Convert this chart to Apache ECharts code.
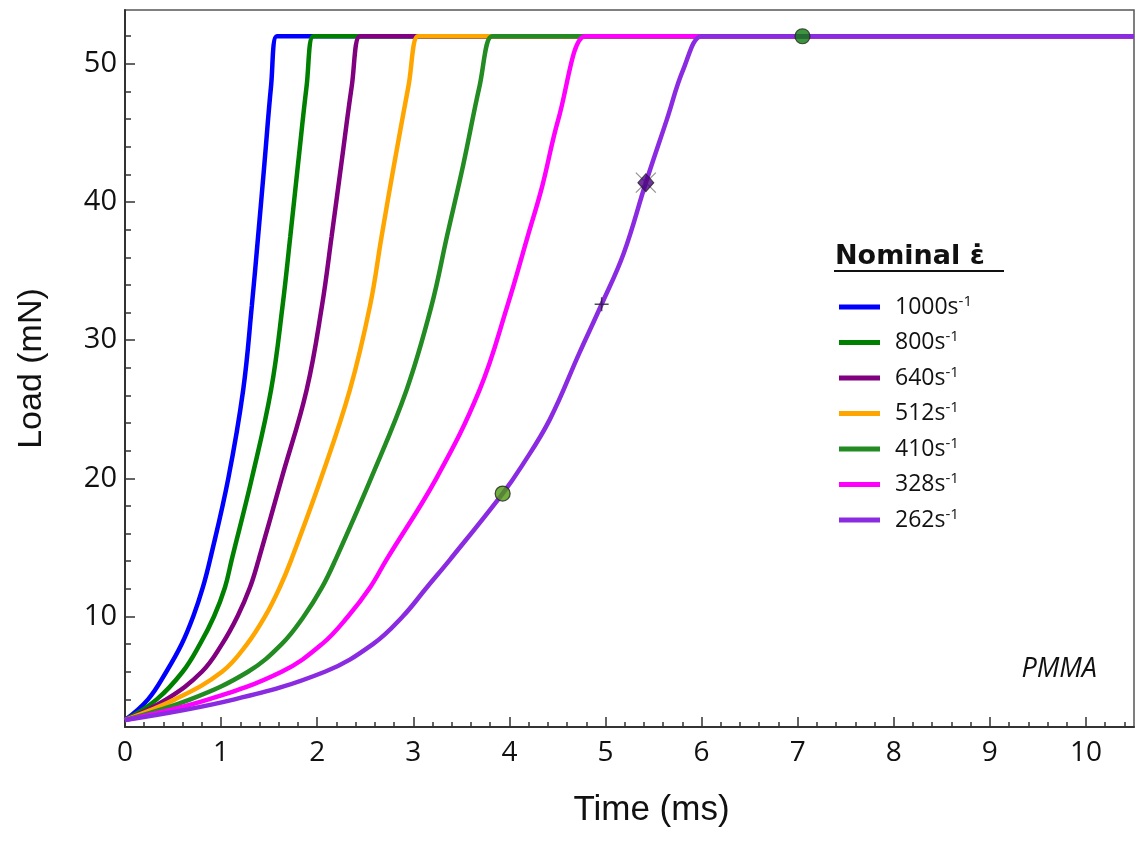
<!DOCTYPE html>
<html>
<head>
<meta charset="utf-8">
<script src="https://cdn.jsdelivr.net/npm/echarts@6/dist/echarts.min.js"></script>
<style>
  html, body { margin: 0; background: #fff; }
  #chart { width: 1141px; height: 844px; }
</style>
</head>
<body>
<div id="chart"></div>
<script>
// strain rates (legend) and line colours
const rates = ['1000', '800', '640', '512', '410', '328', '262'];
const lineColors = ['#0000ff', '#008000', '#800080', '#ffa500', '#228b22', '#ff00ff', '#8a2be2'];

// [time (ms), load (mN)]
const load1000 = [[0, 2.5], [0.24, 4], [0.43, 6], [0.59, 8], [0.71, 10], [0.81, 12.1], [0.885, 14.1], [1.075, 20], [1.23, 26.4], [1.32, 32.5], [1.385, 37.5], [1.45, 42.7], [1.52, 48.4], [1.58, 52], [1.66, 52], [10.5, 52]];
const load800 = [[0, 2.5], [0.33, 4], [0.6, 6], [0.78, 8], [0.926, 10], [1.04, 12.1], [1.11, 14.1], [1.32, 20], [1.52, 26.4], [1.64, 32.5], [1.72, 37.5], [1.8, 42.7], [1.89, 48.4], [1.96, 52], [2.04, 52], [10.5, 52]];
const load640 = [[0, 2.5], [0.43, 4], [0.8, 6], [1.01, 8], [1.17, 10], [1.3, 12.1], [1.39, 14.1], [1.63, 20], [1.89, 26.4], [2.05, 32.5], [2.15, 37.5], [2.25, 42.7], [2.36, 48.4], [2.445, 52], [2.53, 52], [10.5, 52]];
const load512 = [[0, 2.5], [0.52, 4], [1.01, 6], [1.27, 8], [1.457, 10], [1.61, 12.1], [1.73, 14.1], [2.04, 20], [2.34, 26.4], [2.55, 32.5], [2.67, 37.5], [2.8, 42.7], [2.95, 48.4], [3.05, 52], [3.13, 52], [10.5, 52]];
const load410 = [[0, 2.5], [0.68, 4], [1.28, 6], [1.63, 8], [1.86, 10], [2.05, 12.1], [2.19, 14.1], [2.56, 20], [2.93, 26.4], [3.19, 32.5], [3.35, 37.5], [3.52, 42.7], [3.69, 48.4], [3.82, 52], [3.9, 52], [10.5, 52]];
const load328 = [[0, 2.5], [0.87, 4], [1.63, 6], [2.05, 8], [2.32, 10], [2.55, 12.1], [2.72, 14.1], [3.24, 20], [3.69, 26.4], [3.98, 32.5], [4.19, 37.5], [4.34, 41.1], [4.51, 46], [4.79, 52], [4.87, 52], [10.5, 52]];
const load262 = [[0, 2.5], [1.14, 4], [2.08, 6], [2.58, 8], [2.89, 10], [3.14, 12.1], [3.38, 14.1], [3.93, 18.9], [4.13, 20.9], [4.42, 24.25], [4.73, 29.1], [4.96, 32.6], [5.19, 36.3], [5.42, 41.4], [5.64, 46], [5.81, 49.6], [6.0, 52], [6.08, 52], [10.5, 52]];
const loads = [load1000, load800, load640, load512, load410, load328, load262];

// markers on the 262 s-1 curve
const circleLight = [[3.93, 18.9]];
const circleDark = [[7.05, 52]];
const diamondPt = [[5.42, 41.4]];
const plusPt = [[4.96, 32.6]];

// axis ticks
const xMajorTicks = [0, 1, 2, 3, 4, 5, 6, 7, 8, 9, 10];
const xMinorTicks = [];
for (let i = 1; i <= 52; i++) if (i % 5 !== 0) xMinorTicks.push(i / 5);
const yMajorTicks = [10, 20, 30, 40, 50];
const yMinorTicks = [4, 6, 8, 12, 14, 16, 18, 22, 24, 26, 28, 32, 34, 36, 38, 42, 44, 46, 48, 52];

const axisColor = '#333';
const chart = echarts.init(document.getElementById('chart'));

const lineSeries = rates.map((r, i) => ({
  name: r,
  type: 'line',
  data: loads[i],
  symbol: 'none',
  smooth: 0.4,
  lineStyle: { color: lineColors[i], width: 4.5 },
  itemStyle: { color: lineColors[i] },
  z: 2,
}));

const markerSeries = [
  {
    type: 'scatter', data: diamondPt, symbol: 'path://M0,0L10,10M10,0L0,10', symbolSize: 20,
    itemStyle: { color: 'transparent', borderColor: '#777', borderWidth: 1.2 }, z: 5,
  },
  {
    type: 'scatter', data: diamondPt, symbol: 'diamond', symbolSize: [16, 18],
    itemStyle: { color: '#4b0082', borderColor: '#222', borderWidth: 1 }, z: 6,
  },
  {
    type: 'scatter', data: plusPt, symbol: 'path://M0,5L10,5M5,0L5,10', symbolSize: 14,
    itemStyle: { color: 'transparent', borderColor: '#222', borderWidth: 1.5 }, z: 6,
  },
  {
    type: 'scatter', data: circleLight, symbol: 'circle', symbolSize: 15,
    itemStyle: { color: '#4c9a0e', borderColor: '#222', borderWidth: 1.2 }, z: 6,
  },
  {
    type: 'scatter', data: circleDark, symbol: 'circle', symbolSize: 15,
    itemStyle: { color: '#0b7a0b', borderColor: '#222', borderWidth: 1.2 }, z: 6,
  },
];

const option = {
  animation: false,
  backgroundColor: '#fff',
  grid: {
    left: 125, right: 7, top: 10, bottom: 117,
    show: true, borderColor: '#555', borderWidth: 1.5,
  },
  legend: {
    data: rates,
    orient: 'vertical',
    left: 834,
    top: 289,
    icon: 'rect',
    itemWidth: 41,
    itemHeight: 5,
    itemGap: 11,
    formatter: (name) => `{n|${name}s}{s|-1}`,
    textStyle: {
      color: '#111',
      rich: {
        n: { fontFamily: 'Open Sans', fontSize: 23, lineHeight: 26, padding: [0, 0, 0, 10], color: '#111' },
        s: { fontFamily: 'Open Sans', fontSize: 15, lineHeight: 12, verticalAlign: 'top', color: '#111' },
      },
    },
  },
  xAxis: [
    {
      type: 'value', min: 0, max: 10.5, position: 'bottom',
      name: 'Time (ms)', nameLocation: 'middle', nameGap: 66,
      nameTextStyle: { fontFamily: 'Liberation Sans', fontSize: 35, color: '#111', padding: [0, 0, 0, 44] },
      axisLine: { lineStyle: { color: axisColor, width: 2 } },
      axisTick: { inside: true, length: 10, customValues: xMajorTicks, lineStyle: { color: axisColor, width: 1.5 } },
      axisLabel: { customValues: xMajorTicks, fontFamily: 'Open Sans', fontSize: 28, color: '#111', margin: 12 },
      splitLine: { show: false },
    },
    {
      type: 'value', min: 0, max: 10.5, position: 'bottom',
      axisLine: { show: false },
      axisTick: { inside: true, length: 5, customValues: xMinorTicks, lineStyle: { color: axisColor, width: 1.5 } },
      axisLabel: { show: false },
      splitLine: { show: false },
    },
  ],
  yAxis: [
    {
      type: 'value', min: 2, max: 53.9, position: 'left',
      name: 'Load (mN)', nameLocation: 'middle', nameGap: 76,
      nameTextStyle: { fontFamily: 'Liberation Sans', fontSize: 34, color: '#111' },
      axisLine: { show: true, lineStyle: { color: axisColor, width: 2 } },
      axisTick: { show: true, inside: true, length: 10, customValues: yMajorTicks, lineStyle: { color: axisColor, width: 1.5 } },
      axisLabel: { customValues: yMajorTicks, fontFamily: 'Open Sans', fontSize: 29, color: '#111', margin: 8 },
      splitLine: { show: false },
    },
    {
      type: 'value', min: 2, max: 53.9, position: 'left',
      axisLine: { show: false },
      axisTick: { show: true, inside: true, length: 6, customValues: yMinorTicks, lineStyle: { color: axisColor, width: 1.5 } },
      axisLabel: { show: false },
      splitLine: { show: false },
    },
  ],
  graphic: [
    {
      type: 'text', left: 835, top: 243,
      style: { text: 'Nominal \u03b5\u0307', font: 'bold 27px "DejaVu Sans"', fill: '#111' },
    },
    {
      type: 'line', shape: { x1: 834, y1: 271, x2: 1004, y2: 271 },
      style: { stroke: '#111', lineWidth: 2 },
    },
    {
      type: 'text', right: 44, top: 656,
      style: { text: 'PMMA', font: 'italic 27px "Open Sans"', fill: '#111' },
    },
  ],
  series: [...lineSeries, ...markerSeries],
};

chart.setOption(option);
</script>
</body>
</html>
